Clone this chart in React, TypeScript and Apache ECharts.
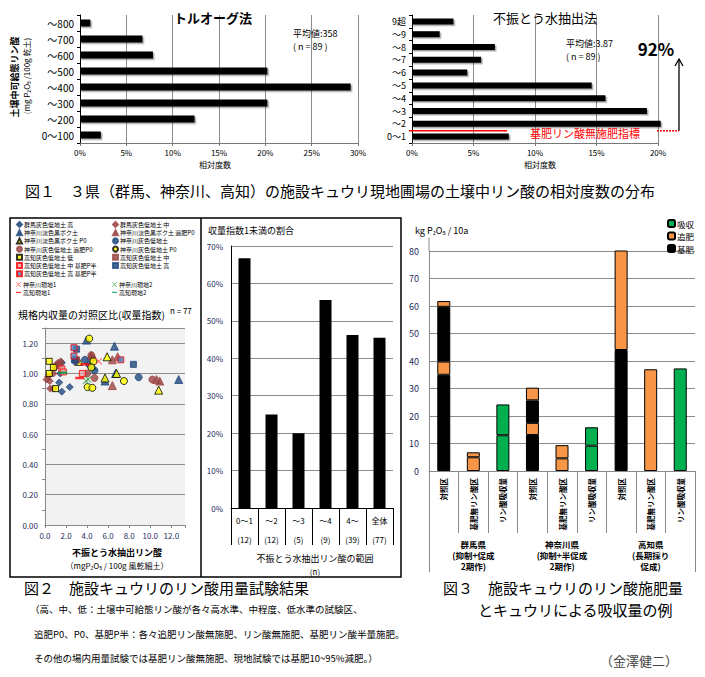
import React, { useEffect, useRef } from 'react';
import * as echarts from 'echarts';

const FONT = '"Noto Sans CJK JP", "Noto Sans", sans-serif';

// ---- Figure 1 (left): Truog method ----
const truogCats = ['0～100', '～200', '～300', '～400', '～500', '～600', '～700', '～800'];
const truogVals = [2.25, 12.36, 20.22, 29.21, 20.22, 7.87, 6.74, 1.12];
// ---- Figure 1 (right): water extraction ----
const waterCats = ['0～1', '～2', '～3', '～4', '～5', '～6', '～7', '～8', '～9', '9超'];
const waterVals = [7.87, 20.22, 19.1, 15.73, 14.61, 4.49, 5.62, 6.74, 2.25, 3.37];

// ---- Figure 2 scatter ----
const gunmaHigh = [[1.35, 0.94], [1.6, 0.88], [2.35, 0.91], [1.45, 1.0], [1.6, 1.07]];
const gunmaMid = [[0.15, 0.96], [0.3, 0.98], [0.45, 0.95], [0.8, 1.0], [1.25, 1.07], [1.5, 1.08], [0.5, 0.9], [0.8, 0.9], [0.95, 1.04], [1.1, 1.06]];
const kanaAndo = [[3.95, 1.22], [6.6, 1.18], [6.7, 1.0], [5.7, 0.95], [12.7, 0.96], [4.5, 1.05]];
const kanaAndoTopP0 = [[6.4, 1.09], [6.9, 1.11], [6.4, 0.92], [10.6, 0.96], [10.9, 0.95], [4.4, 1.12]];
const kanaAndoP0 = [[5.9, 1.11], [5.7, 0.97], [6.8, 1.0], [10.8, 0.89], [3.2, 1.08]];
const kanaGray = [[3.8, 1.09], [4.7, 1.02], [8.9, 0.975], [4.2, 1.06], [2.9, 1.08]];
const kanaGrayTopP0 = [[4.4, 1.12], [4.7, 0.97], [4.5, 1.1], [10.2, 0.96], [4.0, 1.0]];
const kanaGrayP0 = [[4.2, 1.23], [4.6, 1.08], [4.4, 1.04], [4.05, 0.91], [4.5, 0.905], [7.5, 0.95]];
const kochiLow = [[0.4, 1.08], [0.8, 1.04], [0.4, 1.0], [1.0, 0.9]];
const kochiMid = [[1.4, 1.05], [3.0, 1.09]];
const kochiMidHalf = [[1.6, 1.03], [1.75, 1.01], [3.55, 1.0]];
const kochiHigh = [[3.0, 1.16], [8.4, 1.06], [2.8, 1.09]];
const kochiHighHalf = [[2.75, 1.17], [2.75, 1.115], [7.2, 1.09]];
const kanaSite1 = [[5.1, 1.08]];
const kanaSite2 = [[4.1, 0.96], [3.9, 0.95]];
const kochiSite1 = [[3.3, 0.97], [3.8, 1.06]];
const kochiSite2 = [[1.7, 1.005]];

// ---- Figure 2 bars ----
const fig2Cats = ['0～1', '～2', '～3', '～4', '4～', '全体'];
const fig2N = ['(12)', '(12)', '(5)', '(9)', '(39)', '(77)'];
const fig2Vals = [66.7, 25.0, 20.0, 55.6, 46.2, 45.5];

// ---- Figure 3 stacked bars ----
const fig3Cats = ['対照区', '基肥無リン酸区', 'リン酸吸収量', '対照区', '基肥無リン酸区', 'リン酸吸収量', '対照区', '基肥無リン酸区', 'リン酸吸収量'];
const fig3Groups = [
  ['群馬県', '(抑制+促成', '2期作)'],
  ['神奈川県', '(抑制+半促成', '2期作)'],
  ['高知県', '(長期採り', '促成)'],
];
const base1 = [35, '-', '-', 13.1, '-', '-', 44, '-', '-'];
const top1 = [4.8, 5.0, '-', 4.4, 4.6, '-', 37.2, 37.0, '-'];
const base2 = [19.9, '-', '-', 8.2, '-', '-', '-', '-', '-'];
const top2 = [2.1, 1.8, '-', 4.6, 4.8, '-', '-', '-', '-'];
const abs1 = ['-', '-', 13.0, '-', '-', 9.2, '-', '-', 37.3];
const abs2 = ['-', '-', 11.2, '-', '-', 6.7, '-', '-', '-'];

const BLUE = '#1F497D';
const MAROON = '#9C4444';
const CROSS = 'path://M0,1L1,0L5,4L9,0L10,1L6,5L10,9L9,10L5,6L1,10L0,9L4,5Z';
const DASH = 'path://M0,0H12V3H0Z';

const scatterDefs = [
  { name: '群馬灰色低地土 高', data: gunmaHigh, symbol: 'diamond', size: 7, color: BLUE, border: BLUE },
  { name: '群馬灰色低地土 中', data: gunmaMid, symbol: 'diamond', size: 7, color: MAROON, border: MAROON },
  { name: '神奈川淡色黒ボク土', data: kanaAndo, symbol: 'triangle', size: 8, color: BLUE, border: BLUE },
  { name: '神奈川淡色黒ボク土 追肥P0', data: kanaAndoTopP0, symbol: 'triangle', size: 8, color: MAROON, border: MAROON },
  { name: '神奈川淡色黒ボク土 P0', data: kanaAndoP0, symbol: 'triangle', size: 8, color: '#FFFF00', border: '#000' },
  { name: '神奈川灰色低地土', data: kanaGray, symbol: 'circle', size: 7, color: BLUE, border: BLUE },
  { name: '神奈川灰色低地土 追肥P0', data: kanaGrayTopP0, symbol: 'circle', size: 7, color: MAROON, border: MAROON },
  { name: '神奈川灰色低地土 P0', data: kanaGrayP0, symbol: 'circle', size: 7, color: '#FFFF00', border: '#000' },
  { name: '高知灰色低地土 低', data: kochiLow, symbol: 'rect', size: 6, color: '#FFFF00', border: '#000' },
  { name: '高知灰色低地土 中', data: kochiMid, symbol: 'rect', size: 6, color: MAROON, border: MAROON },
  { name: '高知灰色低地土 中 基肥P半', data: kochiMidHalf, symbol: 'rect', size: 6, color: '#E9A3A3', border: '#FF0000' },
  { name: '高知灰色低地土 高', data: kochiHigh, symbol: 'rect', size: 6, color: BLUE, border: BLUE },
  { name: '高知灰色低地土 高 基肥P半', data: kochiHighHalf, symbol: 'rect', size: 6, color: '#4F81BD', border: '#FF0000' },
  { name: '神奈川現地1', data: kanaSite1, symbol: CROSS, size: 7, color: '#FF3B3B', border: 'transparent' },
  { name: '神奈川現地2', data: kanaSite2, symbol: CROSS, size: 7, color: '#3FA34D', border: 'transparent' },
  { name: '高知現地1', data: kochiSite1, symbol: DASH, size: [9, 2.5], color: '#FF0000', border: 'transparent' },
  { name: '高知現地2', data: kochiSite2, symbol: DASH, size: [9, 2.5], color: '#00A050', border: 'transparent' },
];

const legendCols = [
  { left: 16, top: 221, names: [0, 2, 4, 6, 8, 10, 12] },
  { left: 112, top: 221, names: [1, 3, 5, 7, 9, 11] },
  { left: 16, top: 281, names: [13, 15] },
  { left: 112, top: 281, names: [14, 16] },
];

function txt(text: string, x: number, y: number, size: number, o: any = {}) {
  return {
    type: 'text',
    x,
    y,
    rotation: o.rot || 0,
    silent: true,
    z: 100,
    style: {
      text,
      fill: o.color || '#000',
      font: `${o.weight || 'normal'} ${size}px ${FONT}`,
      textAlign: o.align || 'left',
      textVerticalAlign: 'middle',
    },
  };
}
function ln(x1: number, y1: number, x2: number, y2: number, color = '#000', w = 1, dash?: number[]) {
  return {
    type: 'line',
    silent: true,
    z: 100,
    shape: { x1, y1, x2, y2 },
    style: { stroke: color, lineWidth: w, lineDash: dash },
  };
}

const GRID_GRAY = '#8c8c8c';
const NAVY = '#1F2D5A';

// Fig 3 plot geometry (used for the group captions under the axis)
const F3_LEFT = 429;
const F3_WIDTH = 266;

export default function App() {
  const ref = useRef<HTMLDivElement>(null);
  useEffect(() => {
    if (!ref.current) return;
    const chart = echarts.init(ref.current, undefined, { renderer: 'svg' });

    const fig1Bar = {
      color: '#000',
      shadowColor: 'rgba(0,0,0,0.35)',
      shadowBlur: 1,
      shadowOffsetX: 1.5,
      shadowOffsetY: 1.5,
    };

    const groupTexts: any[] = [];
    fig3Groups.forEach((lines, gi) => {
      const cx = F3_LEFT + (F3_WIDTH / fig3Groups.length) * (gi + 0.5);
      lines.forEach((t, li) => groupTexts.push(txt(t, cx, 544 + li * 11, 8.5, { align: 'center', weight: 'bold' })));
    });

    const option: any = {
      animation: false,
      backgroundColor: '#fff',
      textStyle: { fontFamily: FONT },
      grid: [
        { left: 80, top: 15, width: 278, height: 128 },
        { left: 412, top: 15, width: 246, height: 128 },
        { left: 45, top: 328, width: 140, height: 197, show: true, backgroundColor: '#F2F2F2', borderWidth: 0 },
        { left: 231, top: 246, width: 162, height: 262 },
        { left: F3_LEFT, top: 251, width: F3_WIDTH, height: 220 },
      ],
      xAxis: [
        {
          gridIndex: 0, type: 'value', min: 0, max: 30, interval: 5,
          axisLine: { show: true, lineStyle: { color: '#777' } },
          axisTick: { show: true, length: 3, lineStyle: { color: '#777' } },
          axisLabel: { formatter: '{value}%', fontSize: 8, color: '#000', margin: 5 },
          splitLine: { show: true, lineStyle: { color: GRID_GRAY } },
        },
        {
          gridIndex: 1, type: 'value', min: 0, max: 20, interval: 5,
          axisLine: { show: true, lineStyle: { color: '#777' } },
          axisTick: { show: true, length: 3, lineStyle: { color: '#777' } },
          axisLabel: { formatter: '{value}%', fontSize: 8, color: '#000', margin: 5 },
          splitLine: { show: true, lineStyle: { color: GRID_GRAY } },
        },
        {
          gridIndex: 2, type: 'value', min: 0, max: 13.3, interval: 2,
          axisLine: { show: true, lineStyle: { color: '#888' } },
          axisTick: { show: true, length: 3, lineStyle: { color: '#888' } },
          axisLabel: {
            fontSize: 8, color: NAVY, margin: 6,
            formatter: (v: number) => (Math.abs(v / 2 - Math.round(v / 2)) < 1e-6 ? v.toFixed(1) : ''),
          },
          splitLine: { show: false },
        },
        {
          gridIndex: 3, type: 'category', data: fig2Cats,
          axisLine: { show: true, lineStyle: { color: '#000' } },
          axisTick: { show: true, length: 37, lineStyle: { color: '#000' } },
          axisLabel: {
            margin: 3, color: '#000', fontSize: 8, interval: 0,
            formatter: (v: string, i: number) => `{a|${v}}\n{b|${fig2N[i]}}`,
            rich: { a: { fontSize: 8, lineHeight: 19 }, b: { fontSize: 8, lineHeight: 19 } },
          },
        },
        {
          gridIndex: 4, type: 'category', data: fig3Cats, position: 'bottom',
          axisLine: { show: true, lineStyle: { color: '#888' } },
          axisTick: { show: true, length: 62, lineStyle: { color: '#888' } },
          axisLabel: { rotate: 90, margin: 7, fontSize: 7.5, color: '#000', fontWeight: 'bold', interval: 0 },
        },
        {
          gridIndex: 4, type: 'category', data: fig3Groups.map((g) => g.join('')), position: 'bottom',
          axisLine: { show: false },
          axisTick: { show: true, length: 101, lineStyle: { color: '#888' } },
          axisLabel: { show: false },
        },
      ],
      yAxis: [
        {
          gridIndex: 0, type: 'category', data: truogCats,
          axisLine: { show: true, lineStyle: { color: '#000' } },
          axisTick: { show: true, length: 3, lineStyle: { color: '#000' } },
          axisLabel: { fontSize: 10, color: '#000', margin: 6 },
        },
        {
          gridIndex: 1, type: 'category', data: waterCats,
          axisLine: { show: true, lineStyle: { color: '#000' } },
          axisTick: { show: true, length: 3, lineStyle: { color: '#000' } },
          axisLabel: { fontSize: 9, color: '#000', margin: 6 },
        },
        {
          gridIndex: 2, type: 'value', min: 0, max: 1.3, interval: 0.2,
          axisLine: { show: true, lineStyle: { color: '#888' } },
          axisTick: { show: false },
          minorTick: { show: true, splitNumber: 2, length: 3, lineStyle: { color: '#888' } },
          axisLabel: {
            fontSize: 8, color: NAVY, margin: 7,
            formatter: (v: number) => (Math.abs(v / 0.2 - Math.round(v / 0.2)) < 1e-6 ? v.toFixed(2) : ''),
          },
          splitLine: { show: true, lineStyle: { color: GRID_GRAY } },
        },
        {
          gridIndex: 3, type: 'value', min: 0, max: 70, interval: 10,
          axisLine: { show: true, lineStyle: { color: '#000' } },
          axisTick: { show: false },
          axisLabel: { formatter: '{value}%', fontSize: 8, color: NAVY, margin: 8 },
          splitLine: { show: true, lineStyle: { color: GRID_GRAY } },
        },
        {
          gridIndex: 4, type: 'value', min: 0, max: 80, interval: 10,
          axisLine: { show: true, lineStyle: { color: '#888' } },
          axisTick: { show: false },
          axisLabel: { fontSize: 9, color: NAVY, margin: 10 },
          splitLine: { show: true, lineStyle: { color: GRID_GRAY } },
        },
      ],
      legend: [
        ...legendCols.map((c) => ({
          orient: 'vertical',
          left: c.left,
          top: c.top,
          padding: 0,
          itemGap: 1.2,
          itemWidth: 5,
          itemHeight: 5,
          selectedMode: false,
          textStyle: { fontSize: 6, color: '#000', lineHeight: 6.8, fontFamily: FONT, padding: [0, 0, 0, -3] },
          data: c.names.map((i) => scatterDefs[i].name),
        })),
        {
          orient: 'vertical',
          left: 667,
          top: 219,
          padding: 0,
          itemGap: 3.5,
          itemWidth: 7,
          itemHeight: 7,
          selectedMode: false,
          textStyle: { fontSize: 8.5, lineHeight: 8.5, color: '#000', fontFamily: FONT, padding: [0, 0, 0, -3] },
          data: ['吸収', '追肥', '基肥'],
        },
      ],
      series: [
        {
          type: 'bar', xAxisIndex: 0, yAxisIndex: 0, data: truogVals, barWidth: 7, itemStyle: fig1Bar,
        },
        {
          type: 'bar', xAxisIndex: 1, yAxisIndex: 1, data: waterVals, barWidth: 6, clip: false, itemStyle: fig1Bar,
        },
        ...scatterDefs.map((d) => ({
          type: 'scatter',
          name: d.name,
          xAxisIndex: 2,
          yAxisIndex: 2,
          data: d.data,
          symbol: d.symbol,
          symbolSize: d.size,
          itemStyle: { color: d.color, borderColor: d.border, borderWidth: d.border === 'transparent' ? 0 : 1 },
        })),
        { type: 'bar', xAxisIndex: 3, yAxisIndex: 3, data: fig2Vals, barWidth: 12, itemStyle: { color: '#000' } },
        ...[
          { name: '基肥', data: base1, color: '#000' },
          { name: '追肥', data: top1, color: '#F79646' },
          { name: '基肥', data: base2, color: '#000' },
          { name: '追肥', data: top2, color: '#F79646' },
          { name: '吸収', data: abs1, color: '#00B050' },
          { name: '吸収', data: abs2, color: '#00B050' },
        ].map((s) => ({
          type: 'bar',
          name: s.name,
          xAxisIndex: 4,
          yAxisIndex: 4,
          stack: 'fig3',
          barWidth: 13,
          data: s.data,
          itemStyle: { color: s.color, borderColor: '#000', borderWidth: 1 },
        })),
      ],
      graphic: {
        elements: [
          // Figure 1 left
          txt('トルオーグ法', 213, 17, 13, { weight: 'bold', align: 'center' }),
          txt('平均値:358', 293, 33, 9),
          txt('( n = 89 )', 293, 46, 9),
          txt('相対度数', 215, 164, 8, { align: 'center' }),
          txt('土壌中可給態リン酸', 14, 77, 9, { rot: Math.PI / 2, align: 'center', weight: 'bold' }),
          txt('(mg P₂O₅ /100g 乾土)', 26, 76, 8, { rot: Math.PI / 2, align: 'center' }),
          // Figure 1 right
          txt('不振とう水抽出法', 545, 17, 13, { align: 'center' }),
          txt('平均値:3.87', 566, 43, 9),
          txt('( n = 89 )', 566, 56, 9),
          txt('相対度数', 540, 164, 8, { align: 'center' }),
          txt('92%', 656, 48, 17, { weight: 'bold', align: 'center' }),
          ln(409, 130.7, 507, 130.7, '#FF0000', 1.5),
          ln(657, 130.7, 679, 130.7, '#FF0000', 1.5, [2, 1]),
          txt('基肥リン酸無施肥指標', 530, 133, 11, { color: '#FF0000' }),
          ln(679, 130.7, 679, 60, '#000', 1.3),
          {
            type: 'polyline', silent: true, z: 100,
            shape: { points: [[675, 66], [679, 59], [683, 66]] },
            style: { stroke: '#000', lineWidth: 1.3, fill: 'none' },
          },
          // Caption 1
          txt('図１　３県（群馬、神奈川、高知）の施設キュウリ現地圃場の土壌中リン酸の相対度数の分布', 25, 190, 15),
          // Figure 2 frames
          {
            type: 'rect', silent: true, z: 90,
            shape: { x: 10, y: 218, width: 391, height: 359 },
            style: { stroke: '#000', lineWidth: 1.5, fill: 'none' },
          },
          ln(201, 218, 201, 577, '#000', 1.5),
          txt('規格内収量の対照区比(収量指数)', 18, 314, 10),
          txt('n = 77', 170, 310, 8),
          txt('不振とう水抽出リン酸', 117, 552, 9, { align: 'center', weight: 'bold' }),
          txt('（mgP₂O₅ / 100g 風乾細土）', 117, 565, 8, { align: 'center' }),
          txt('収量指数1未満の割合', 208, 230, 9),
          txt('不振とう水抽出リン酸の範囲', 315, 558, 9, { align: 'center' }),
          txt('(n)', 315, 571, 8, { align: 'center' }),
          // Caption 2
          txt('図２　施設キュウリのリン酸用量試験結果', 24, 587, 15),
          txt('（高、中、低：土壌中可給態リン酸が各々高水準、中程度、低水準の試験区、', 30, 609, 9.5),
          txt('追肥P0、P0、基肥P半：各々追肥リン酸無施肥、リン酸無施肥、基肥リン酸半量施肥。', 34, 634, 9.5),
          txt('その他の場内用量試験では基肥リン酸無施肥、現地試験では基肥10~95%減肥。）', 34, 658, 9.5),
          // Figure 3
          txt('kg P₂O₅ / 10a', 415, 230, 9),
          ln(F3_LEFT, 237.7, F3_LEFT, 251, '#888', 1),
          ...groupTexts,
          // Caption 3
          txt('図３　施設キュウリのリン酸施肥量', 443, 587, 15),
          txt('とキュウリによる吸収量の例', 478, 609, 15),
          txt('（金澤健二）', 600, 660, 13, { color: '#444' }),
        ],
      },
    };
    chart.setOption(option);
    return () => chart.dispose();
  }, []);
  return (
    <div
      ref={ref}
      style={{ position: 'fixed', left: 0, top: 0, width: 705, height: 677, background: '#fff' }}
    />
  );
}
